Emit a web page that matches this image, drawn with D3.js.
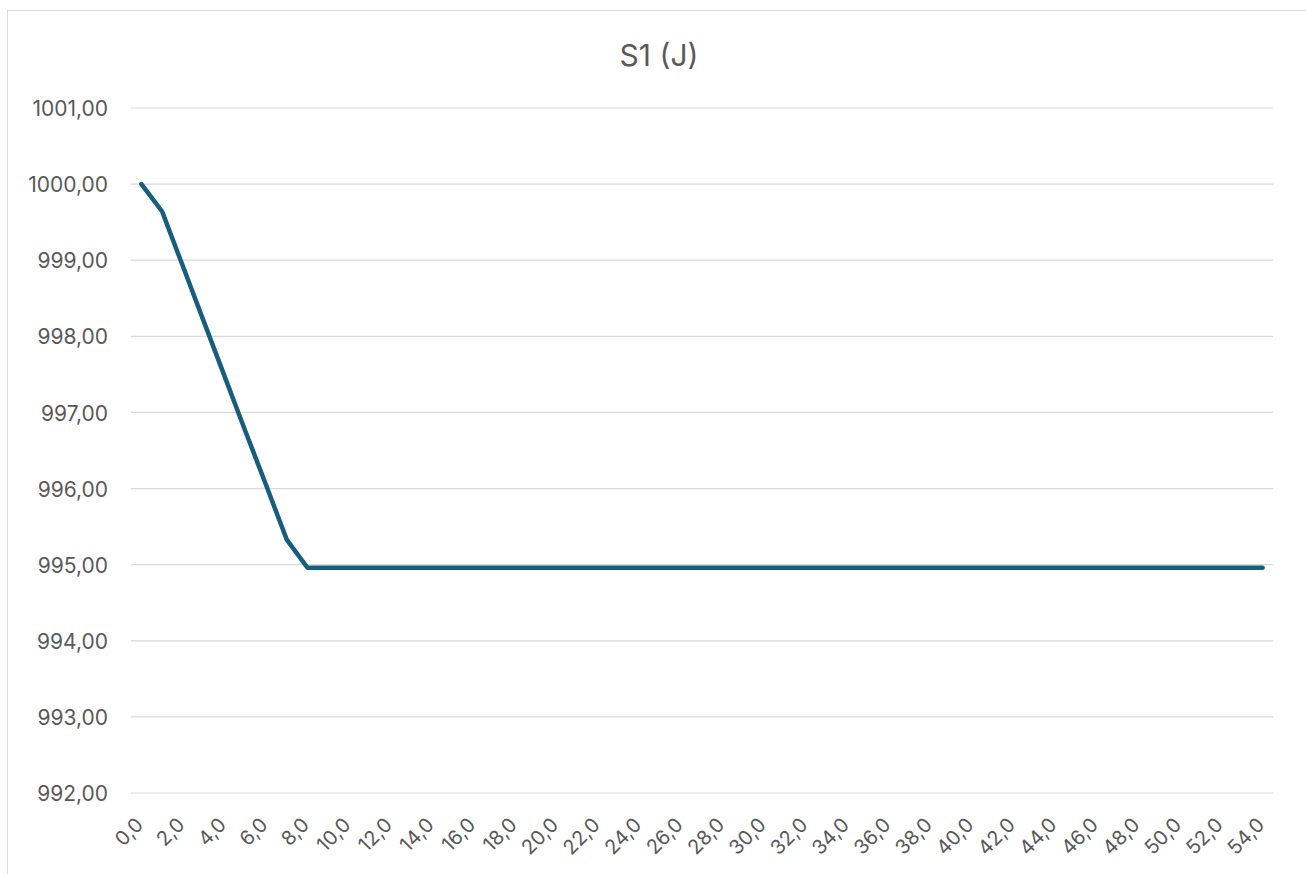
<!DOCTYPE html>
<html>
<head>
<meta charset="utf-8">
<script src="https://cdn.jsdelivr.net/npm/d3@7"></script>
<style>
  body { margin: 0; background: #fff; }
  text { font-family: Inter, "Noto Sans", sans-serif; fill: #595959; }
</style>
</head>
<body>
<div id="chart"></div>
<script>
// data: S1 (J) against time, one point per step 0..54
var steps = [];
for (var i = 0; i <= 54; i++) steps.push(i);
var s1Start = [1000.00, 999.64, 998.92, 998.20, 997.48, 996.76, 996.05, 995.33, 994.96];
var s1Rest = [994.96, 994.96, 994.96, 994.96, 994.96, 994.96, 994.96, 994.96, 994.96, 994.96,
              994.96, 994.96, 994.96, 994.96, 994.96, 994.96, 994.96, 994.96, 994.96, 994.96,
              994.96, 994.96, 994.96, 994.96, 994.96, 994.96, 994.96, 994.96, 994.96, 994.96,
              994.96, 994.96, 994.96, 994.96, 994.96, 994.96, 994.96, 994.96, 994.96, 994.96,
              994.96, 994.96, 994.96, 994.96, 994.96, 994.96];
var s1 = s1Start.concat(s1Rest);
var yTicks = [992, 993, 994, 995, 996, 997, 998, 999, 1000, 1001];

// graph specs
var width = 1306;
var height = 874;
var plot = {left: 131, right: 1273, top: 108, bottom: 793};

var svg = d3.select("#chart").append("svg").attr("width", width).attr("height", height);

// chart border
svg.append("rect")
    .attr("x", 7.5).attr("y", 10.5)
    .attr("width", width).attr("height", height)
    .attr("fill", "none").attr("stroke", "#d9d9d9").attr("stroke-width", 1);

// scales
var xscale = d3.scaleBand()
    .domain(steps)
    .range([plot.left, plot.right]);

var yscale = d3.scaleLinear()
    .domain([992, 1001])
    .range([plot.bottom, plot.top]);

// gridlines
svg.append("g").selectAll("line").data(yTicks).enter().append("line")
    .attr("x1", plot.left).attr("x2", plot.right)
    .attr("y1", function(d) { return yscale(d); })
    .attr("y2", function(d) { return yscale(d); })
    .attr("stroke", "#d9d9d9").attr("stroke-width", 1.2);

// y axis
var yaxis = d3.axisLeft(yscale)
    .tickValues(yTicks)
    .tickSize(0)
    .tickPadding(0)
    .tickFormat(function(d) { return d3.format(".2f")(d).replace(".", ","); });
var yg = svg.append("g")
    .attr("transform", "translate(108,0)")
    .call(yaxis);
yg.select(".domain").remove();
yg.selectAll("text").style("font-size", "21px").attr("fill", "#595959").attr("dy", "0.36em");

// x axis, every other label
var xaxis = d3.axisBottom(xscale)
    .tickValues(steps.filter(function(d) { return d % 2 === 0; }))
    .tickSize(0)
    .tickFormat(function(d) { return d3.format(".1f")(d).replace(".", ","); });
var xg = svg.append("g")
    .attr("transform", "translate(0," + plot.bottom + ")")
    .call(xaxis);
xg.select(".domain").remove();
xg.selectAll("text")
    .style("font-size", "20px")
    .attr("fill", "#595959")
    .attr("text-anchor", "end")
    .attr("dy", null)
    .attr("y", 0)
    .attr("transform", "translate(3,33) rotate(-45)");

// line
var line = d3.line()
    .x(function(d, i) { return xscale(steps[i]) + xscale.bandwidth() / 2; })
    .y(function(d) { return yscale(d); });
svg.append("path")
    .datum(s1)
    .attr("d", line)
    .attr("fill", "none")
    .attr("stroke", "#175d7e")
    .attr("stroke-width", 4.5)
    .attr("stroke-linejoin", "round")
    .attr("stroke-linecap", "round");

// title
svg.append("text")
    .text("S1 (J)")
    .attr("x", 659)
    .attr("y", 66)
    .attr("text-anchor", "middle")
    .style("font-size", "30px");
</script>
</body>
</html>
